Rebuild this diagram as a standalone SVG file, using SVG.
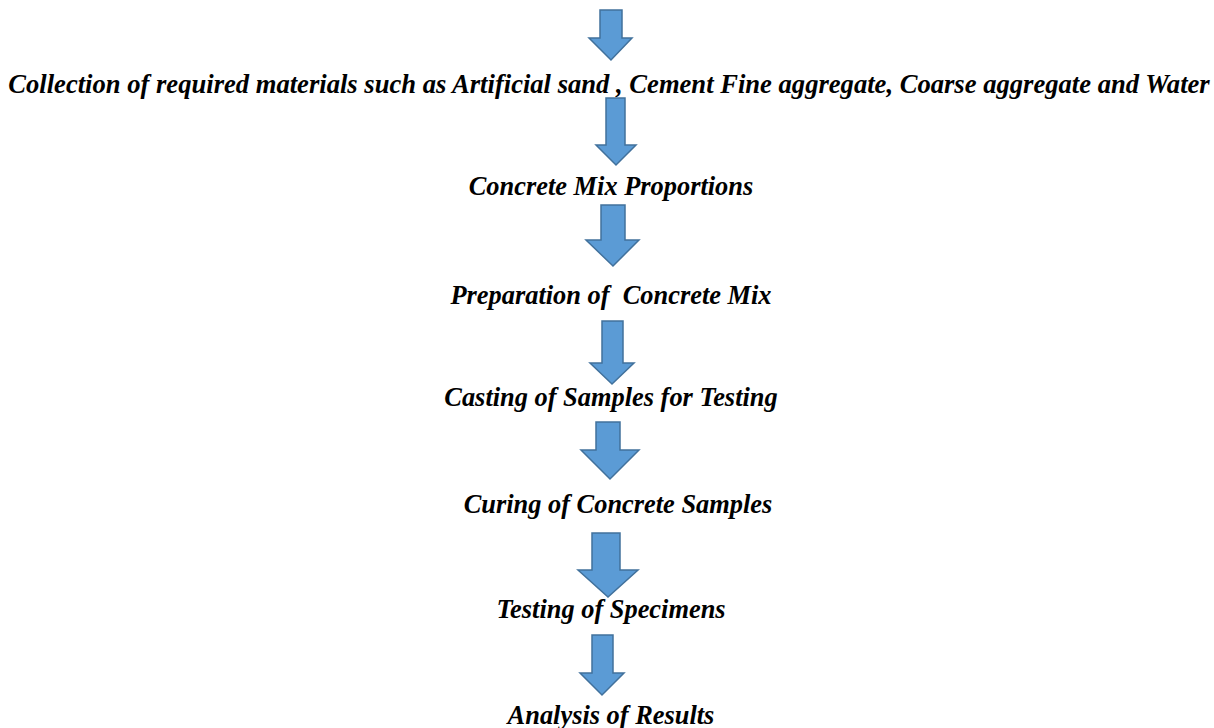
<svg xmlns="http://www.w3.org/2000/svg" width="1214" height="728" viewBox="0 0 1214 728">
<style>
.t{font-family:"Liberation Serif","Times New Roman",serif;font-weight:bold;font-style:italic;font-size:26.4px;fill:#000;text-anchor:middle}
.a{fill:#5B9BD5;stroke:#41719C;stroke-width:1.5;stroke-linejoin:miter}
</style>
<rect width="1214" height="728" fill="#fff"/>
<g id="connectors">
<polygon class="a" points="600,10 622,10 622,38 632,38 611,60 589,38 600,38"/>
<polygon class="a" points="606,98 625,98 625,145 636,145 616,165 596,145 606,145"/>
<polygon class="a" points="601,205 625,205 625,240 639,240 613,266 586,240 601,240"/>
<polygon class="a" points="602,321 623,321 623,363 634,363 612,384 590,363 602,363"/>
<polygon class="a" points="596,422 620,422 620,450 639,450 610,479 581,450 596,450"/>
<polygon class="a" points="592,533 620,533 620,570 638,570 608,597 578,570 592,570"/>
<polygon class="a" points="592,635 613,635 613,673 624,673 602,695 580,673 592,673"/>
</g>
<g id="n1"><text class="t" x="609" y="93" style="font-size:26.6px">Collection of required materials such as Artificial sand , Cement  Fine aggregate, Coarse aggregate and Water</text></g>
<g id="n2"><text class="t" x="611" y="195">Concrete Mix Proportions</text></g>
<g id="n3"><text class="t" x="611" y="304" xml:space="preserve">Preparation of  Concrete Mix</text></g>
<g id="n4"><text class="t" x="611" y="406">Casting of Samples for Testing</text></g>
<g id="n5"><text class="t" x="618" y="513">Curing of Concrete Samples</text></g>
<g id="n6"><text class="t" x="611" y="618">Testing of Specimens</text></g>
<g id="n7"><text class="t" x="611" y="724">Analysis of Results</text></g>
</svg>
